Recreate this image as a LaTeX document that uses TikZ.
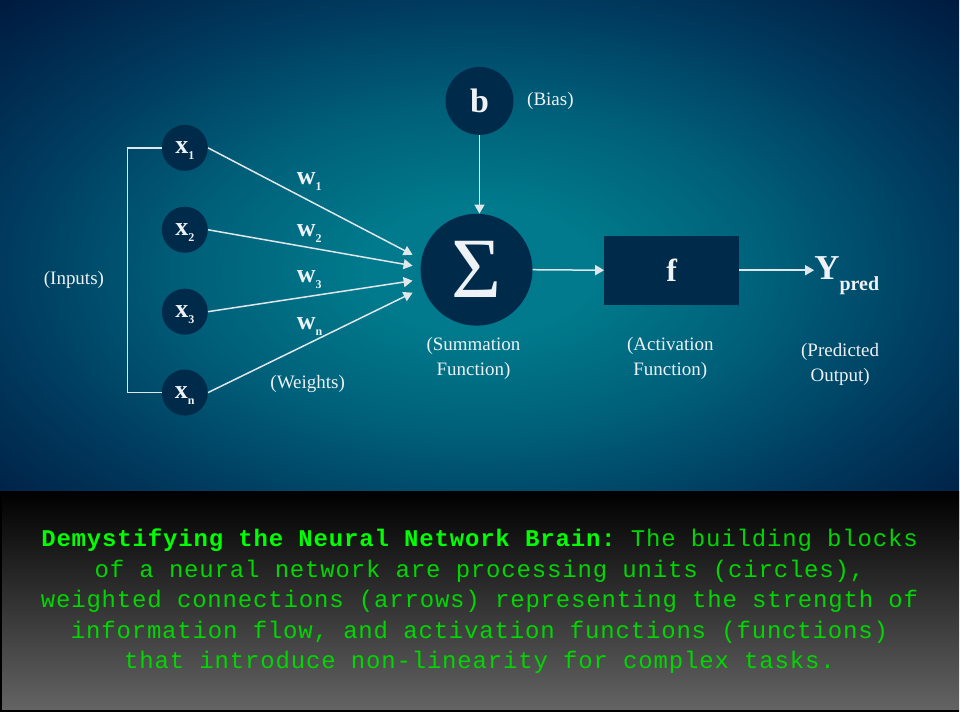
\documentclass[tikz,border=0pt]{standalone}
\usepackage{fontspec}
\setmainfont{Liberation Serif}
\setmonofont[LetterSpace=3.5]{Liberation Mono}
\usetikzlibrary{positioning, arrows.meta}
\definecolor{navybg}{RGB}{0,27,64}
\definecolor{tealglow}{RGB}{0,122,140}
\definecolor{tealmid}{RGB}{0,96,122}
\definecolor{bluemid}{RGB}{0,58,94}
\definecolor{unitfill}{RGB}{0,42,74}
\definecolor{inktext}{RGB}{238,242,246}
\definecolor{wire}{RGB}{224,230,234}
\definecolor{termgreen}{RGB}{0,255,0}
\definecolor{termdim}{RGB}{0,215,0}
\definecolor{panelgray}{RGB}{100,100,100}
\pgfdeclareradialshading{glow}{\pgfpoint{0bp}{0bp}}{color(0bp)=(tealglow); color(6bp)=(tealglow); color(15bp)=(tealmid); color(25bp)=(bluemid); color(35bp)=(navybg); color(50bp)=(navybg)}
\newcommand{\lowidx}[1]{\raisebox{-6pt}[0pt][0pt]{\fontsize{12}{12}\selectfont#1}}
\tikzset{
  % --- neuron parts ---
  unit/.style={circle, fill=unitfill, minimum size=46pt, inner sep=0pt,
    text=inktext, font=\bfseries\fontsize{26}{26}\selectfont},
  biasunit/.style={unit, minimum size=68pt, font=\bfseries\fontsize{34}{34}\selectfont},
  sumunit/.style={unit, minimum size=112pt, font=\fontsize{86}{86}\selectfont},
  actbox/.style={rectangle, fill=unitfill, minimum width=135pt, minimum height=69pt,
    inner sep=0pt, text=inktext, font=\bfseries\fontsize{32}{32}\selectfont},
  % --- text ---
  caption/.style={text=inktext, align=center, font=\fontsize{19}{25}\selectfont},
  weightlbl/.style={text=inktext, inner sep=0pt, anchor=base west,
    font=\bfseries\fontsize{26}{26}\selectfont},
  % --- connectors ---
  wire/.style={draw=wire, line width=1.5pt},
  feed/.style={wire, -{Triangle[length=9pt, width=10pt]}},
}

\begin{document}
\begin{tikzpicture}[x=1pt, y=-1pt]
  % background
  \fill[white] (0,0) rectangle (960,720);
  \shade[shading=glow] (0,0) rectangle (960,540);
  \shade[top color=black, bottom color=panelgray] (0,492) rectangle (960,712);
  \draw[black, line width=2pt] (1,492) -- (1,712) -- (960,712);
  % inputs
  \foreach \i/\y in {1/148, 2/230, 3/312, n/393}{
    \node[unit] (x\i) at (185,\y) {x\lowidx{\i}};
  }
  \draw[wire] (x1.west) -- ++(-34,0) |- (xn.west);
  \node[caption] (inputs) at (74,280) {(Inputs)};
  % summation, bias, activation
  \node[sumunit] (sum) at (477,270) {Σ};
  \node[biasunit] (b) at (480,101) {b};
  \node[caption, right=10pt of b] (bias) {(Bias)};
  \node[actbox] (f) at (672.5,270.5) {f};
  \node[text=inktext, inner sep=0pt, anchor=west, font=\bfseries\fontsize{35}{35}\selectfont]
    (ypred) at (815,268) {Y\raisebox{-11pt}[0pt][0pt]{\fontsize{20}{20}\selectfont pred}};
  % weighted connections
  \foreach \i/\y in {1/255, 2/266, 3/281, n/293}{
    \coordinate (tip\i) at (413,\y);
    \draw[feed] (x\i.east) -- (tip\i);
  }
  \foreach \i/\y in {1/185, 2/237, 3/283, n/330}{
    \node[weightlbl] (w\i) at (297,\y) {w\lowidx{\i}};
  }
  \draw[feed] (b.south) -- (b.south |- sum.north);
  \draw[feed] (sum.east) -- (f.west);
  \draw[feed] (f.east) -- (f.east -| ypred.west);
  % captions
  \node[caption] (weights) at (308,384) {(Weights)};
  \node[caption] (sumcap) at (474,359) {(Summation\\Function)};
  \node[caption] (actcap) at (671,359) {(Activation\\Function)};
  \node[caption] (outcap) at (841,365) {(Predicted\\Output)};
  % explanation panel
  \node[align=center, text=termdim, font=\ttfamily\fontsize{24}{30.5}\selectfont] (note) at (480,602)
    {{\bfseries\color{termgreen}Demystifying the Neural Network Brain:} The building blocks\\
     of a neural network are processing units (circles),\\
     weighted connections (arrows) representing the strength of\\
     information flow, and activation functions (functions)\\
     that introduce non-linearity for complex tasks.};
\end{tikzpicture}
\end{document}
